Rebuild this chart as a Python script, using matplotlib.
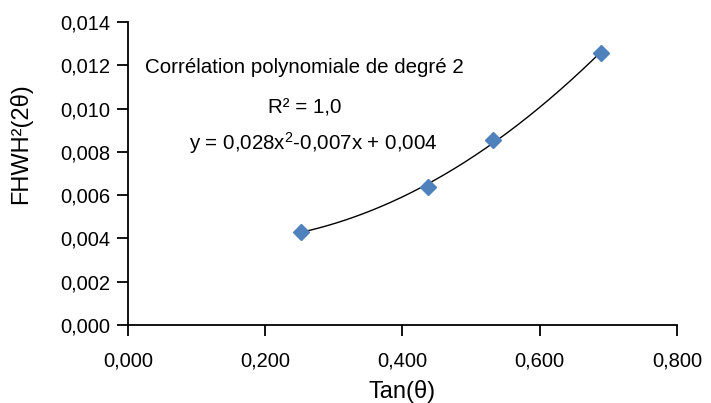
import numpy as np
import matplotlib
matplotlib.use("Agg")
import matplotlib.pyplot as plt
from matplotlib.ticker import FuncFormatter

plt.rcParams['font.family'] = ['Liberation Sans', 'DejaVu Sans']
plt.rcParams['mathtext.default'] = 'regular'

# data
tan_theta = [0.252, 0.437, 0.532, 0.689]
fwhm2 = [0.00431, 0.00639, 0.00855, 0.01258]

x_ticks = [0.0, 0.2, 0.4, 0.6, 0.8]
y_ticks = [0.0, 0.002, 0.004, 0.006, 0.008, 0.010, 0.012, 0.014]

fig = plt.figure(figsize=(7.11, 4.03), dpi=100)
ax = fig.add_axes([0.180, 0.1935, 0.772, 0.7515])

# polynomial trend line, degree 2
coef = np.polyfit(tan_theta, fwhm2, 2)
xs = np.linspace(min(tan_theta), max(tan_theta), 200)
ax.plot(xs, np.polyval(coef, xs), color='black', lw=1.0, zorder=2)

ax.plot(tan_theta, fwhm2, linestyle='none', marker='D', markersize=8.5,
        color='#4F81BD', zorder=3)

ax.set_xlim(0, 0.8)
ax.set_ylim(0, 0.014)
ax.set_xticks(x_ticks)
ax.set_yticks(y_ticks)
ax.xaxis.set_major_formatter(FuncFormatter(lambda v, p: f"{v:.3f}".replace('.', ',')))
ax.yaxis.set_major_formatter(FuncFormatter(lambda v, p: f"{v:.3f}".replace('.', ',')))
ax.tick_params(axis='both', direction='out', length=8, width=1.3, labelsize=14.5, color='black')
ax.tick_params(axis='x', pad=11)
ax.tick_params(axis='y', pad=5)

for side in ['top', 'right']:
    ax.spines[side].set_visible(False)
for side in ['left', 'bottom']:
    ax.spines[side].set_linewidth(1.3)

ax.set_xlabel('Tan(\u03b8)', fontsize=17, labelpad=7)
ax.set_ylabel('FHWH\u00b2(2\u03b8)', fontsize=17, va='center')
ax.yaxis.set_label_coords(-0.195, 0.60)

ax.text(0.0248, 0.01192, 'Corrélation polynomiale de degré 2', fontsize=14.8, va='center', ha='left')
ax.text(0.258, 0.01003, 'R² = 1,0', fontsize=14.8, va='center', ha='center')
ax.text(0.270, 0.00841, 'y = 0,028x$^2$-0,007x + 0,004', fontsize=14.8, va='center', ha='center')

fig.savefig('out.png', dpi=100)
